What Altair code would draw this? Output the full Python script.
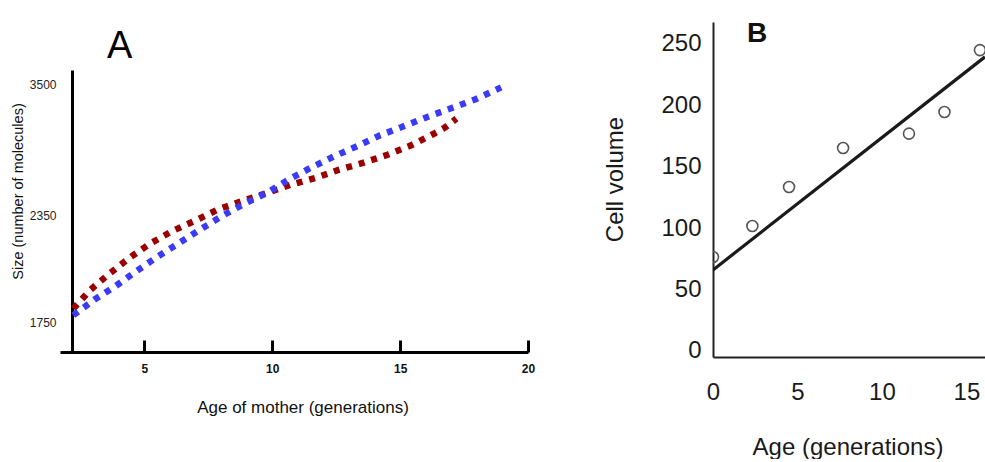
import altair as alt
import pandas as pd

FONT = "Liberation Sans"

# ---- Panel A: cell size against the age of the mother cell ----
red_age = [2.22, 2.87, 3.63, 4.41, 5.22, 6.09, 7.01, 7.89, 8.83, 9.79,
           10.73, 11.68, 12.62, 13.57, 14.51, 15.43, 16.30, 16.74, 17.15, 17.2]
red_size = [1825, 1928, 2021, 2109, 2189, 2260, 2320, 2400, 2473, 2543,
            2616, 2675, 2748, 2809, 2879, 2962, 3061, 3116, 3187, 3196]

blue_age = [2.22, 3.04, 3.88, 4.70, 5.51, 6.36, 7.20, 8.03, 8.91, 9.81,
            10.63, 11.51, 12.42, 13.33, 14.22, 15.16, 16.09, 17.02, 17.95, 18.95]
blue_size = [1788, 1875, 1952, 2036, 2116, 2193, 2270, 2344, 2449, 2546,
             2660, 2765, 2865, 2956, 3050, 3131, 3213, 3289, 3366, 3470]

size_ticks = [1750, 2350, 3500]
age_ticks_a = [5, 10, 15, 20]

# ---- Panel B: cell volume against age ----
age_b = [0, 2.33, 4.5, 7.7, 11.6, 13.7, 15.8]
volume_b = [76.5, 101.8, 133.5, 165.3, 177, 194.6, 245]
fit_age = [0, 16.1]
fit_volume = [66, 239.5]
volume_ticks = [0, 50, 100, 150, 200, 250]
age_ticks_b = [0, 5, 10, 15]

panel_labels = ["A", "B"]

red_df = pd.DataFrame({"age": red_age, "size": red_size})
blue_df = pd.DataFrame({"age": blue_age, "size": blue_size})
cells_df = pd.DataFrame({"age": age_b, "volume": volume_b})
fit_df = pd.DataFrame({"age": fit_age, "volume": fit_volume})

# Panel A scales: the size axis is stretched unevenly between its labels
x_scale_a = alt.Scale(domain=[1.7, 20], nice=False, zero=False)
y_scale_a = alt.Scale(domain=[1582, 2350, 3500, 3623],
                      range=[330, 193, 62, 48], nice=False, zero=False)

y_axis_a = alt.Axis(values=size_ticks, format="d", offset=-12, grid=False,
                    domainColor="black", domainWidth=3, ticks=False,
                    labelFont=FONT, labelFontSize=12, labelColor="#222",
                    labelPadding=16, labelFlush=False,
                    title="Size (number of molecules)", titleFont=FONT,
                    titleFontSize=14.5, titleFontWeight="normal",
                    titleColor="#111", titleBaseline="alphabetic",
                    titleX=-50, titleY=169)

x_axis_a = alt.Axis(values=age_ticks_a, grid=False, domainColor="black",
                    domainWidth=3, ticks=False, labelFont=FONT,
                    labelFontSize=12, labelFontWeight="bold",
                    labelColor="#111", labelBaseline="alphabetic",
                    labelPadding=20, labelFlush=False, labelOverlap=False,
                    title="Age of mother (generations)", titleFont=FONT,
                    titleFontSize=17, titleFontWeight="normal",
                    titleColor="#111", titleBaseline="alphabetic",
                    titleX=242.5, titleY=60)

# inward tick marks sit on the age axis line
x_ticks_a = alt.Axis(values=age_ticks_a, orient="bottom", offset=-12,
                     grid=False, domain=False, labels=False, ticks=True,
                     tickSize=12, tickWidth=3, tickColor="black", title=None)

red_line = alt.Chart(red_df).mark_line(
    color="#9b0000", strokeWidth=6.5, strokeDash=[6, 7], strokeCap="butt"
).encode(
    x=alt.X("age:Q", scale=x_scale_a, axis=x_axis_a),
    y=alt.Y("size:Q", scale=y_scale_a, axis=y_axis_a),
)

blue_line = alt.Chart(blue_df).mark_line(
    color="#3b3bf7", strokeWidth=6.5, strokeDash=[6, 7], strokeCap="butt"
).encode(
    x=alt.X("age:Q", scale=x_scale_a, axis=x_ticks_a),
    y=alt.Y("size:Q", scale=y_scale_a, axis=y_axis_a),
)

label_a = alt.Chart(pd.DataFrame({"panel": panel_labels[:1]})).mark_text(
    font=FONT, fontSize=38, fontWeight="normal", color="black",
    align="left", baseline="alphabetic"
).encode(text="panel:N", x=alt.value(47), y=alt.value(36))

panel_a = alt.layer(red_line, blue_line, label_a).resolve_axis(
    x="independent"
).properties(width=468, height=330)

# Panel B scales and axes
x_scale_b = alt.Scale(domain=[0, 16.1], nice=False, zero=False)
y_scale_b = alt.Scale(domain=[-4.9, 267.9], nice=False, zero=False)

x_axis_b = alt.Axis(values=age_ticks_b, grid=False, domainColor="#222",
                    domainWidth=2, ticks=False, labelFont=FONT,
                    labelFontSize=24, labelColor="#1a1a1a",
                    labelBaseline="alphabetic", labelPadding=42,
                    labelFlush=False, labelOverlap=False,
                    title="Age (generations)", titleFont=FONT,
                    titleFontSize=24, titleFontWeight="normal",
                    titleColor="#1a1a1a", titleBaseline="alphabetic",
                    titleX=134.5, titleY=97)

y_axis_b = alt.Axis(values=volume_ticks, grid=False, domainColor="#222",
                    domainWidth=2, ticks=False, labelFont=FONT,
                    labelFontSize=24, labelColor="#1a1a1a", labelPadding=12,
                    labelFlush=False, labelOverlap=False,
                    title="Cell volume", titleFont=FONT, titleFontSize=24,
                    titleFontWeight="normal", titleColor="#1a1a1a",
                    titleBaseline="alphabetic", titleX=-91, titleY=157)

fit_line = alt.Chart(fit_df).mark_line(
    color="#1a1a1a", strokeWidth=3.2, clip=True
).encode(
    x=alt.X("age:Q", scale=x_scale_b, axis=x_axis_b),
    y=alt.Y("volume:Q", scale=y_scale_b, axis=y_axis_b),
)

cells = alt.Chart(cells_df).mark_point(
    shape="circle", filled=False, size=120, strokeWidth=1.6,
    color="#555555", opacity=1, clip=True
).encode(
    x=alt.X("age:Q", scale=x_scale_b, axis=x_axis_b),
    y=alt.Y("volume:Q", scale=y_scale_b, axis=y_axis_b),
)

label_b = alt.Chart(pd.DataFrame({"panel": panel_labels[1:]})).mark_text(
    font=FONT, fontSize=28, fontWeight="bold", color="#111",
    align="left", baseline="alphabetic"
).encode(text="panel:N", x=alt.value(34), y=alt.value(20))

panel_b = alt.layer(fit_line, cells, label_b).properties(width=272, height=335)

chart = alt.hconcat(
    panel_a, panel_b, spacing=185, bounds="flush",
    padding={"left": 10, "top": 20, "right": 0, "bottom": 0},
    background="white",
).configure_view(stroke=None)

chart.save("out.html", embed_options={"renderer": "svg", "actions": False})
